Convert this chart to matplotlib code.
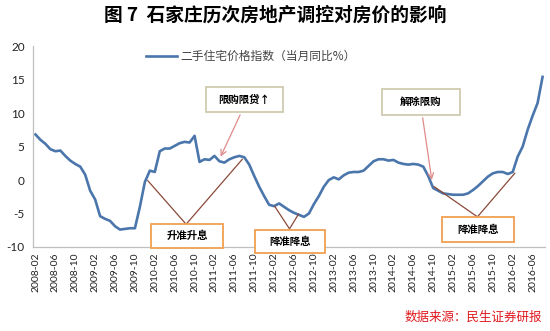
import matplotlib
matplotlib.use("Agg")
import matplotlib.pyplot as plt
from matplotlib.patches import Rectangle

plt.rcParams['font.family'] = ['Noto Sans CJK SC', 'DejaVu Sans']

title = "图 7  石家庄历次房地产调控对房价的影响"
series_name = "二手住宅价格指数（当月同比%）"
source = "数据来源：民生证券研报"

# monthly values, 2008-02 .. 2016-08
values = [6.8, 6.0, 5.4, 4.6, 4.3, 4.4, 3.6, 2.9, 2.4, 2.0,
          0.8, -1.6, -2.9, -5.4, -5.8, -6.1, -6.9, -7.4, -7.3, -7.2,
          -7.2, -4.0, -0.3, 1.4, 1.2, 4.3, 4.7, 4.7, 5.1, 5.5,
          5.7, 5.6, 6.6, 2.7, 3.1, 3.0, 3.6, 2.8, 2.6, 3.1,
          3.4, 3.6, 3.4, 2.3, 0.6, -1.0, -2.4, -3.7, -3.9, -3.5,
          -4.0, -4.5, -4.9, -5.2, -5.5, -5.0, -3.6, -2.4, -1.0, 0.0,
          0.4, 0.1, 0.7, 1.1, 1.2, 1.2, 1.4, 2.1, 2.8, 3.1,
          3.1, 2.9, 3.0, 2.6, 2.4, 2.3, 2.4, 2.3, 2.0, 0.6,
          -1.2, -1.6, -2.0, -2.1, -2.2, -2.2, -2.2, -2.0, -1.5, -0.9,
          -0.2, 0.5, 1.0, 1.2, 1.2, 0.9, 1.2, 3.5, 5.0, 7.5,
          9.6, 11.5, 15.4]

tick_labels = ["2008-02", "2008-06", "2008-10", "2009-02", "2009-06", "2009-10",
               "2010-02", "2010-06", "2010-10", "2011-02", "2011-06", "2011-10",
               "2012-02", "2012-06", "2012-10", "2013-02", "2013-06", "2013-10",
               "2014-02", "2014-06", "2014-10", "2015-02", "2015-06", "2015-10",
               "2016-02", "2016-06"]
y_ticks = [-10, -5, 0, 5, 10, 15, 20]

fig = plt.figure(figsize=(5.5, 3.31), dpi=100)
ax = fig.add_axes([0.06, 0.2538, 0.931, 0.607])

x = list(range(len(values)))
ax.plot(x, values, color="#4A76AC", lw=1.9, label=series_name, solid_joinstyle='round')

ax.set_xlim(-0.5, len(values) - 0.5)
ax.set_ylim(-10, 20)
ax.set_yticks(y_ticks)
ax.set_yticklabels([str(v) for v in y_ticks], fontsize=8.5, family=['Lato', 'DejaVu Sans'])
ax.set_xticks([4 * k for k in range(len(tick_labels))])
ax.set_xticklabels(tick_labels, rotation=90, fontsize=7.5, family=['Lato', 'DejaVu Sans'])
ax.tick_params(axis='both', length=0, colors="#222222")
ax.tick_params(axis='y', pad=6)
ax.tick_params(axis='x', pad=4)
for s in ['top', 'right']:
    ax.spines[s].set_visible(False)
for s in ['left', 'bottom']:
    ax.spines[s].set_color("#BFBFBF")
    ax.spines[s].set_linewidth(0.9)

leg = ax.legend(loc='upper left', bbox_to_anchor=(0.2, 1.035), frameon=False,
                fontsize=8.5, handlelength=2.6, handletextpad=0.3)
for t in leg.get_texts():
    t.set_color("#444444")

fig.text(0.5, 0.955, title, ha='center', va='center', fontsize=13.5, fontweight='bold')
fig.text(0.985, 0.04, source, ha='right', va='center', fontsize=9, color="#E0191E",
         style='italic')

def box(x0, x1, y0, y1, text, ec):
    ax.add_patch(Rectangle((x0, y0), x1 - x0, y1 - y0, fc='white', ec=ec, lw=1.3,
                           clip_on=False, zorder=5))
    ax.text((x0 + x1) / 2, (y0 + y1) / 2, text, ha='center', va='center', fontsize=7.5,
            fontweight='bold', zorder=6, clip_on=False)

brown = "#8B4A3A"
pink = "#E08A8A"
orange = "#F0A050"
beige = "#CFCBB0"

# arrows from top boxes
ax.annotate("", xy=(37.0, 3.1), xytext=(41.4, 10.1),
            arrowprops=dict(arrowstyle='->', color=pink, lw=0.9))
ax.annotate("", xy=(79.8, -0.4), xytext=(77.8, 9.7),
            arrowprops=dict(arrowstyle='->', color=pink, lw=0.9))
box(34.3, 49.7, 10.1, 13.9, "限购限贷↑", beige)
box(69.7, 85.3, 9.7, 13.6, "解除限购", beige)

# V lines to bottom boxes
ax.plot([22.6, 30.3, 41.6], [-0.1, -6.6, 3.1], color=brown, lw=0.9, clip_on=False)
ax.plot([48.1, 51.1, 52.9], [-3.9, -7.3, -5.1], color=brown, lw=0.9, clip_on=False)
ax.plot([80.2, 88.9, 96.4], [-1.0, -5.5, 1.0], color=brown, lw=0.9, clip_on=False)
box(23.2, 37.8, -10.1, -6.6, "升准升息", orange)
box(44.2, 58.2, -10.9, -7.5, "降准降息", orange)
box(81.8, 96.2, -9.3, -5.5, "降准降息", orange)

fig.savefig("out.png", dpi=100)
